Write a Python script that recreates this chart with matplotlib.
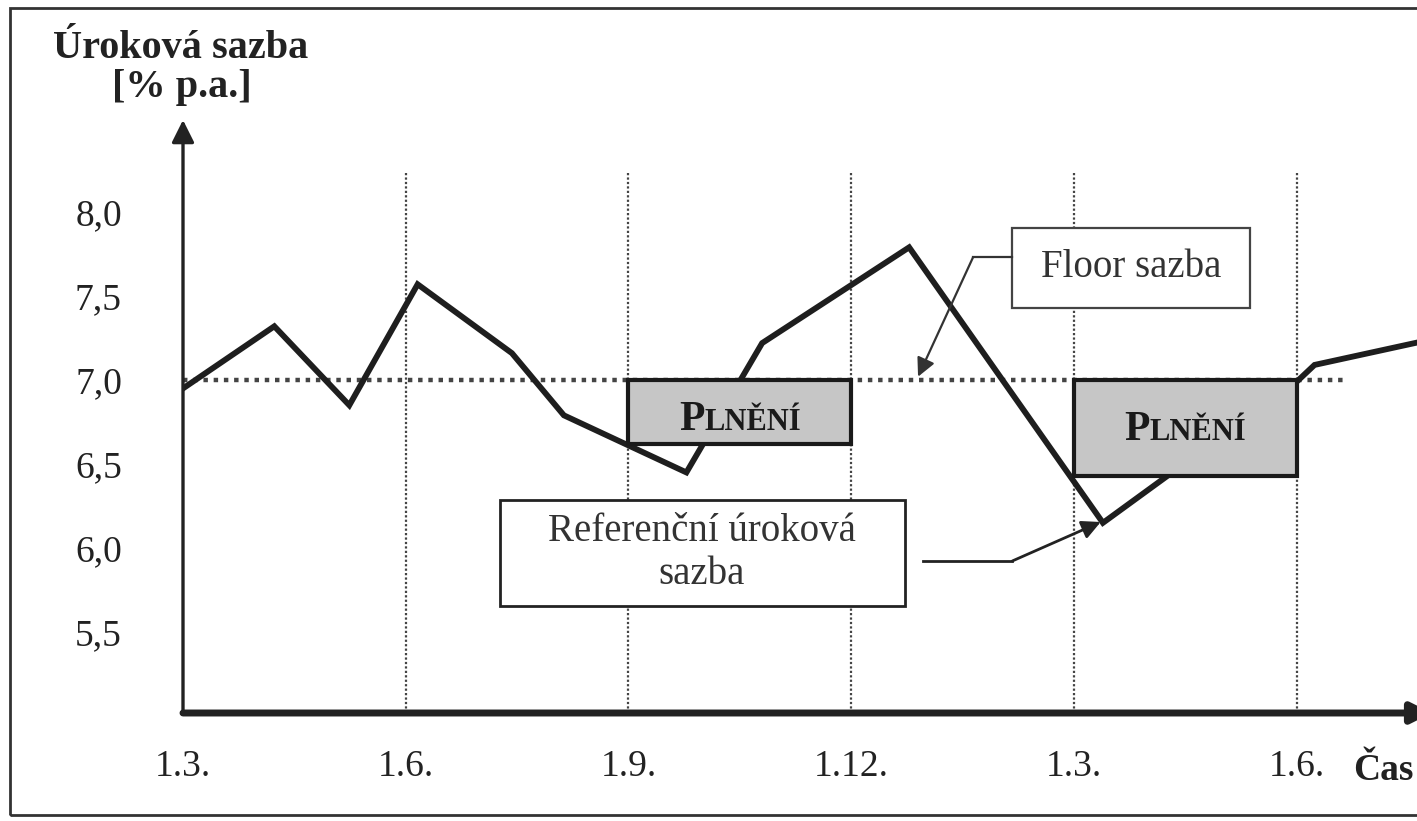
import matplotlib
matplotlib.use("Agg")
import matplotlib.pyplot as plt
from matplotlib.patches import Rectangle
from matplotlib.offsetbox import TextArea, HPacker, AnnotationBbox

plt.rcParams['font.family'] = ['Liberation Serif', 'DejaVu Serif']

# data (months from 1.3., rate in % p.a.)
mesice = [0, 1.23, 2.24, 3.16, 4.43, 5.13, 6.78, 7.80, 9.78, 12.39, 15.0, 15.24, 16.9]
sazba = [6.95, 7.32, 6.85, 7.57, 7.16, 6.79, 6.45, 7.22, 7.79, 6.15, 6.99, 7.09, 7.25]
floor = 7.0
floor_konec = 15.68

x_ticks = [0, 3, 6, 9, 12, 15]
x_labels = ['1.3.', '1.6.', '1.9.', '1.12.', '1.3.', '1.6.']
y_ticks = [5.5, 6.0, 6.5, 7.0, 7.5, 8.0]
y_labels = ['5,5', '6,0', '6,5', '7,0', '7,5', '8,0']

# payout boxes: (start, end, bottom)
plneni = [(6, 9, 6.62), (12, 15, 6.43)]

W, H = 1417, 821
fig = plt.figure(figsize=(W / 100, H / 100), dpi=100)
ax = fig.add_axes([183 / W, 108 / H, 1 - 183 / W, 593 / H])
ax.set_xlim(0, 16.62)
ax.set_ylim(5.018, 8.548)
for s in ax.spines.values():
    s.set_visible(False)

# outer frame
fig.patches.append(Rectangle((10 / W, 6 / H), 1.2, 1 - 14 / H, transform=fig.transFigure,
                             fill=False, lw=2, edgecolor='#333333'))

# vertical dotted guides
ax.vlines(x_ticks[1:], 5.018, 8.24, colors='#444444', linestyles=(0, (1, 1)), lw=1.6, zorder=1)
# floor rate
ax.hlines(floor, 0, floor_konec, colors='#444444', linestyles=(0, (1, 1.3)), lw=3.2, zorder=1)

# reference rate
ax.plot(mesice, sazba, color='#1e1e1e', lw=4.2, solid_joinstyle='miter', zorder=2)

# payout boxes
for (a, b, dno), (tx, ty) in zip(plneni, [(7.5, 6.76), (13.5, 6.70)]):
    ax.add_patch(Rectangle((a, dno), b - a, floor - dno, facecolor='#c6c6c6',
                           edgecolor='#1a1a1a', lw=3, zorder=3))
    pack = HPacker(children=[TextArea('P', textprops=dict(fontsize=30, fontweight='bold', color='#1a1a1a')),
                             TextArea('LNĚNÍ', textprops=dict(fontsize=22, fontweight='bold', color='#1a1a1a'))],
                   align='baseline', pad=0, sep=0)
    ax.add_artist(AnnotationBbox(pack, (tx, ty), frameon=False, box_alignment=(0.5, 0.5), zorder=4))

# Floor sazba box + callout
ax.add_patch(Rectangle((11.17, 7.429), 3.2, 0.476, facecolor='white', edgecolor='#444444', lw=1.6, zorder=3))
ax.text(12.77, 7.667, 'Floor sazba', fontsize=28, ha='center', va='center', color='#333333', zorder=4)
ax.plot([11.17, 10.64], [7.73, 7.73], color='#333333', lw=1.6, zorder=3)
ax.annotate('', xy=(9.9, 7.02), xytext=(10.64, 7.73),
            arrowprops=dict(arrowstyle='-|>', color='#333333', lw=1.6, mutation_scale=28, shrinkA=0, shrinkB=0), zorder=3)

# Referencni sazba box + callout
ax.add_patch(Rectangle((4.27, 5.655), 5.45, 0.631, facecolor='white', edgecolor='#222222', lw=2, zorder=3))
ax.text(6.99, 5.97, 'Referenční úroková\nsazba', fontsize=28, ha='center', va='center',
        color='#333333', linespacing=1.2, zorder=4)
ax.plot([9.97, 11.17], [5.923, 5.923], color='#222222', lw=2, zorder=3)
ax.annotate('', xy=(12.36, 6.155), xytext=(11.17, 5.923),
            arrowprops=dict(arrowstyle='-|>', color='#222222', lw=2, mutation_scale=28, shrinkA=0, shrinkB=0), zorder=3)

# axes with arrows
ax.annotate('', xy=(0, 1.0), xytext=(0, 0), xycoords='axes fraction',
            arrowprops=dict(arrowstyle='-|>', color='#222222', lw=2.4, mutation_scale=34, shrinkA=0, shrinkB=0))
ax.annotate('', xy=(1.012, 0), xytext=(0, 0), xycoords='axes fraction',
            arrowprops=dict(arrowstyle='-|>', color='#222222', lw=5, mutation_scale=30, shrinkA=0, shrinkB=0))

ax.set_xticks(x_ticks)
ax.set_xticklabels(x_labels, fontsize=27, color='#222222')
ax.set_yticks(y_ticks)
ax.set_yticklabels(y_labels, fontsize=27, color='#222222')
ax.tick_params(axis='x', length=0, pad=26)
ax.tick_params(axis='y', length=0, pad=44)

fig.text(1383 / W, 1 - 770 / H, 'Čas', fontsize=27, fontweight='bold', ha='center', va='center', color='#222222')
fig.text(181 / W, 1 - 58 / H, 'Úroková sazba', fontsize=29, fontweight='bold', ha='center', va='baseline', color='#222222')
fig.text(182 / W, 1 - 97 / H, '[% p.a.]', fontsize=29, fontweight='bold', ha='center', va='baseline', color='#222222')

fig.savefig('out.png', dpi=100)
